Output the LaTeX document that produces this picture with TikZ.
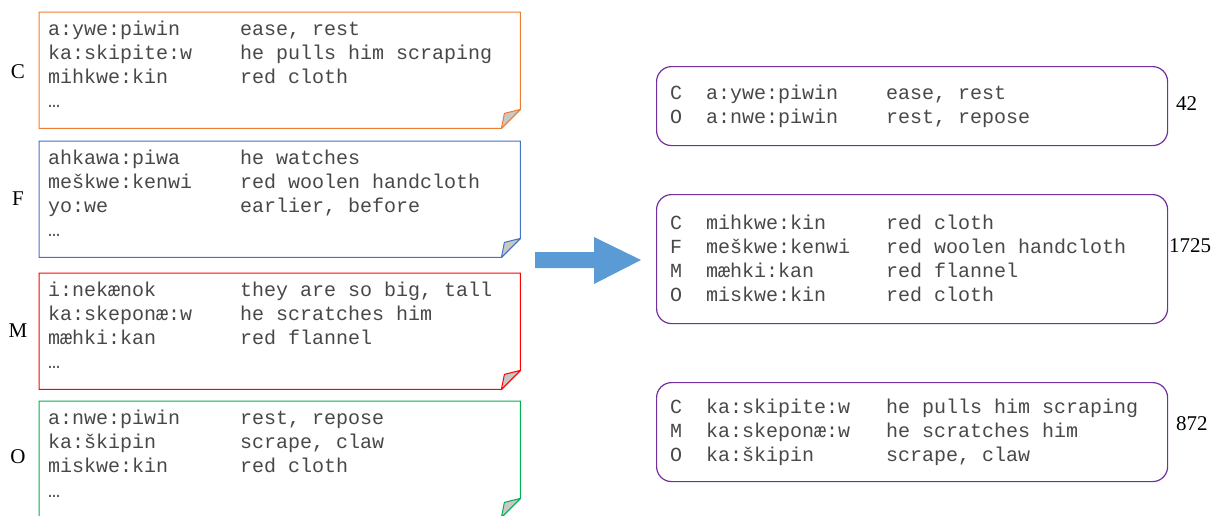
\documentclass[tikz,border=0pt]{standalone}
\usepackage{fontspec}
\setmainfont{Liberation Serif}
\newfontfamily\monofont{Liberation Mono}
\definecolor{cOrange}{HTML}{ED7D31}
\definecolor{cBlue}{HTML}{4472C4}
\definecolor{cRed}{HTML}{FF0000}
\definecolor{cGreen}{HTML}{00B050}
\definecolor{cPurple}{HTML}{7030A0}
\definecolor{cArrow}{HTML}{5B9BD5}
\definecolor{cFold}{HTML}{C8C8C8}
\definecolor{cText}{HTML}{484848}
\newcommand\lcol[1]{\makebox[192pt][l]{#1}}
\newcommand\rlab[1]{\makebox[36pt][l]{#1}}
\newcommand\rcol[1]{\makebox[180pt][l]{#1}}
\tikzset{
  mono/.style={font=\monofont\fontsize{20}{24}\selectfont, text=cText, inner sep=0pt,
    text height=14pt, text depth=4pt, anchor=west, yshift=-2pt},
  serif/.style={font=\fontsize{21}{24}\selectfont, text=black, inner sep=0pt},
  lbox/.style={draw=none, minimum width=481pt, minimum height=116pt, inner sep=0pt, anchor=north west},
  rbox/.style={draw=cPurple, line width=1.2pt, rounded corners=15pt, minimum width=511pt, inner sep=0pt, anchor=north west},
}
\begin{document}
\begin{tikzpicture}[x=1pt,y=-1pt]
\useasboundingbox (0,0) rectangle (1213,515);
\begin{scope}
\clip (0,0) rectangle (1213,515);
% left boxes
\foreach \nm/\yy/\col in {bc/12/cOrange, bf/141/cBlue, bm/273/cRed, bo/401/cGreen}{
  \node[lbox] (\nm) at (39,\yy) {};
  \draw[\col, line width=1pt] (\nm.south west) -- (\nm.north west) -- (\nm.north east)
     -- ([yshift=19pt]\nm.south east) -- ([xshift=-19pt]\nm.south east) -- cycle;
  \filldraw[\col, fill=cFold, line width=1pt, line join=round] ([yshift=19pt]\nm.south east)
     -- ([xshift=-16pt,yshift=15pt]\nm.south east) -- ([xshift=-19pt]\nm.south east) -- cycle;
}
\end{scope}
% labels
\node[serif] (lc) at (18,72) {C};
\node[serif] (lf) at (18,199) {F};
\node[serif] (lm) at (18,331) {M};
\node[serif] (lo) at (18,457) {O};
% C text
\node[mono] (c1) at (48,28) {\lcol{a:ywe:piwin}ease, rest};
\node[mono] (c2) at (48,52) {\lcol{ka:skipite:w}he pulls him scraping};
\node[mono] (c3) at (48,76) {\lcol{mihkwe:kin}red cloth};
\node[mono] (c4) at (48,100) {…};
% F text
\node[mono] (f1) at (48,157) {\lcol{ahkawa:piwa}he watches};
\node[mono] (f2) at (48,181) {\lcol{meškwe:kenwi}red woolen handcloth};
\node[mono] (f3) at (48,205) {\lcol{yo:we}earlier, before};
\node[mono] (f4) at (48,229) {…};
% M text
\node[mono] (m1) at (48,289) {\lcol{i:nekænok}they are so big, tall};
\node[mono] (m2) at (48,313) {\lcol{ka:skeponæ:w}he scratches him};
\node[mono] (m3) at (48,337) {\lcol{mæhki:kan}red flannel};
\node[mono] (m4) at (48,361) {…};
% O text
\node[mono] (o1) at (48,417) {\lcol{a:nwe:piwin}rest, repose};
\node[mono] (o2) at (48,441) {\lcol{ka:škipin}scrape, claw};
\node[mono] (o3) at (48,465) {\lcol{miskwe:kin}red cloth};
\node[mono] (o4) at (48,490) {…};
% arrow
\fill[cArrow] (535,252) -- (594,252) -- (594,237) -- (641,260) -- (594,284) -- (594,268) -- (535,268) -- cycle;
% right boxes
\node[rbox, minimum height=79pt] (r1) at (656,66) {};
\node[rbox, minimum height=129pt] (r2) at (656,194) {};
\node[rbox, minimum height=99pt] (r3) at (656,382) {};
\node[mono] (r11) at (670,92) {\rlab{C}\rcol{a:ywe:piwin}ease, rest};
\node[mono] (r12) at (670,116) {\rlab{O}\rcol{a:nwe:piwin}rest, repose};
\node[mono] (r21) at (670,222) {\rlab{C}\rcol{mihkwe:kin}red cloth};
\node[mono] (r22) at (670,246) {\rlab{F}\rcol{meškwe:kenwi}red woolen handcloth};
\node[mono] (r23) at (670,270) {\rlab{M}\rcol{mæhki:kan}red flannel};
\node[mono] (r24) at (670,294) {\rlab{O}\rcol{miskwe:kin}red cloth};
\node[mono] (r31) at (670,406) {\rlab{C}\rcol{ka:skipite:w}he pulls him scraping};
\node[mono] (r32) at (670,430) {\rlab{M}\rcol{ka:skeponæ:w}he scratches him};
\node[mono] (r33) at (670,454) {\rlab{O}\rcol{ka:škipin}scrape, claw};
% counts
\node[serif, anchor=west] (n1) at (1176,104) {42};
\node[serif, anchor=west] (n2) at (1169,246) {1725};
\node[serif, anchor=west] (n3) at (1176,424) {872};
\end{tikzpicture}
\end{document}
